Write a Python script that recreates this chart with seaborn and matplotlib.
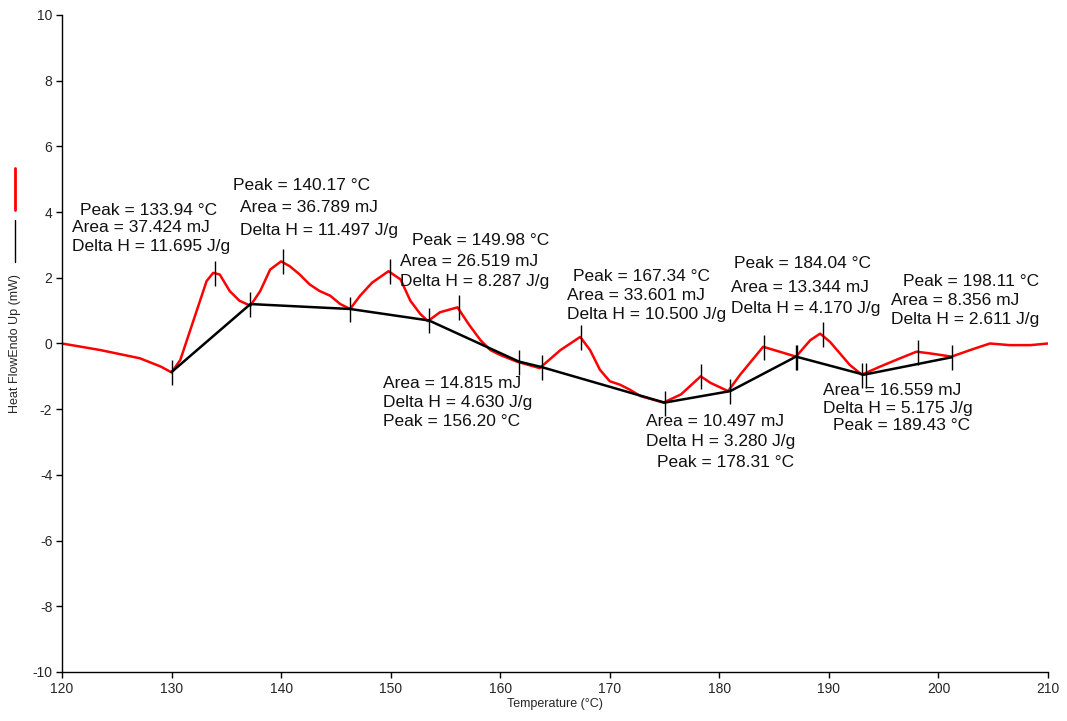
import numpy as np
import pandas as pd
import matplotlib
matplotlib.use("Agg")
import matplotlib.pyplot as plt
import seaborn as sns
from matplotlib.lines import Line2D

# DSC trace (red)
temp = [120.0, 123.5, 127.1, 129.0, 130.0, 130.8, 131.7, 132.6, 133.2, 133.8, 134.4, 135.3,
        136.2, 137.2, 138.1, 139.0, 140.0, 140.8, 141.7, 142.6, 143.5, 144.5, 145.4,
        146.3, 147.2, 148.3, 149.8, 150.9, 151.8, 152.7, 153.4, 154.5, 156.1, 157.2,
        158.2, 159.1, 160.0, 161.5, 163.6, 165.5, 167.3, 168.2, 169.1, 170.0, 170.9,
        171.8, 172.8, 174.9, 176.5, 178.3, 179.2, 180.8, 181.9, 184.0, 185.5, 187.0,
        188.3, 189.2, 190.1, 191.9, 193.0, 194.7, 196.5, 198.0, 199.2, 201.2, 202.9,
        204.7, 206.5, 208.4, 210.0]
heat_flow = [0.0, -0.2, -0.45, -0.7, -0.88, -0.5, 0.4, 1.3, 1.9, 2.15, 2.1, 1.6,
             1.3, 1.15, 1.6, 2.25, 2.5, 2.35, 2.1, 1.8, 1.6, 1.45, 1.2,
             1.05, 1.45, 1.85, 2.2, 1.95, 1.3, 0.9, 0.68, 0.95, 1.1, 0.55,
             0.1, -0.2, -0.35, -0.55, -0.75, -0.2, 0.2, -0.2, -0.8, -1.15, -1.25,
             -1.4, -1.6, -1.8, -1.55, -1.0, -1.2, -1.45, -0.95, -0.1, -0.25, -0.4,
             0.1, 0.3, 0.05, -0.65, -0.95, -0.7, -0.45, -0.25, -0.3, -0.4, -0.2,
             0.0, -0.05, -0.05, 0.0]

# baseline segments (black)
base_t = [130.0, 137.2, 146.3, 153.5, 161.7, 163.8, 175.0, 181.0, 187.0, 193.2, 201.2]
base_hf = [-0.87, 1.2, 1.05, 0.7, -0.55, -0.72, -1.8, -1.45, -0.4, -0.95, -0.42]

# peak markers
peak_t = [133.94, 140.17, 149.98, 156.20, 167.34, 178.31, 184.04, 189.43, 198.11]
peak_hf = [2.15, 2.5, 2.2, 1.1, 0.2, -1.0, -0.1, 0.3, -0.25]
node_t = [130.0, 137.2, 146.3, 153.5, 161.7, 163.8, 175.0, 181.0, 187.0, 187.05, 193.0, 193.35, 201.2]
node_hf = [-0.87, 1.2, 1.05, 0.7, -0.55, -0.72, -1.8, -1.45, -0.4, -0.4, -0.95, -0.95, -0.42]

# annotation values
areas = [37.424, 36.789, 26.519, 14.815, 33.601, 10.497, 13.344, 16.559, 8.356]
delta_h = [11.695, 11.497, 8.287, 4.630, 10.500, 3.280, 4.170, 5.175, 2.611]
# text anchors: x of the peak line, x of the other lines, y of peak/area/delta lines
label_x_peak = [121.64, 135.61, 151.95, 149.30, 166.64, 174.30, 181.34, 190.38, 196.76]
label_x_rest = [120.91, 136.25, 150.85, 149.30, 166.09, 173.30, 181.07, 189.46, 195.67]
label_y = [[4.06, 3.52, 2.94], [4.82, 4.15, 3.45], [3.12, 2.51, 1.90],
           [-2.36, -1.23, -1.81], [2.05, 1.45, 0.87], [-3.61, -2.39, -2.98],
           [2.42, 1.70, 1.08], [-2.51, -1.42, -1.99], [1.90, 1.32, 0.72]]

sns.set_theme(style="ticks")
plt.rcParams['font.family'] = ['Liberation Sans', 'DejaVu Sans']
plt.rcParams['axes.unicode_minus'] = False

fig = plt.figure(figsize=(10.67, 7.21), dpi=100)
ax = fig.add_axes([0.0581, 0.068, 0.9241, 0.9112])

df = pd.DataFrame({"temp": temp, "hf": heat_flow})
bdf = pd.DataFrame({"temp": base_t, "hf": base_hf})
sns.lineplot(data=df, x="temp", y="hf", color="#ff0000", lw=1.8, ax=ax, sort=False)
sns.lineplot(data=bdf, x="temp", y="hf", color="black", lw=1.8, ax=ax, sort=False)

ax.plot(peak_t, peak_hf, ls="none", marker="|", ms=18, mew=1.0, color="black")
ax.plot(node_t, node_hf, ls="none", marker="|", ms=18, mew=1.0, color="black")

for i in range(len(peak_t)):
    ax.text(label_x_peak[i], label_y[i][0], f"Peak = {peak_t[i]:.2f} °C",
            fontsize=12.5, va="center", ha="left", color="#111111")
    ax.text(label_x_rest[i], label_y[i][1], f"Area = {areas[i]:.3f} mJ",
            fontsize=12.5, va="center", ha="left", color="#111111")
    ax.text(label_x_rest[i], label_y[i][2], f"Delta H = {delta_h[i]:.3f} J/g",
            fontsize=12.5, va="center", ha="left", color="#111111")

ax.set_xlim(120, 210)
ax.set_ylim(-10, 10)
ax.set_xticks(np.arange(120, 211, 10))
ax.set_yticks(np.arange(-10, 11, 2))
ax.tick_params(labelsize=10, length=4, width=1, color="black", pad=3)
ax.set_xlabel("Temperature (°C)", fontsize=9, labelpad=2)
ax.set_ylabel("Heat FlowEndo Up (mW)", fontsize=9, va="center")
ax.yaxis.set_label_coords(-0.048, 0.5)
for s in ["left", "bottom"]:
    ax.spines[s].set_linewidth(1)
    ax.spines[s].set_color("black")
sns.despine(ax=ax)

# legend marks next to the y label
fig.add_artist(Line2D([0.0145, 0.0145], [1 - 168 / 721, 1 - 210 / 721], color="#ff0000", lw=2))
fig.add_artist(Line2D([0.0145, 0.0145], [1 - 220 / 721, 1 - 262 / 721], color="black", lw=1))

fig.savefig("out.png", dpi=100)
